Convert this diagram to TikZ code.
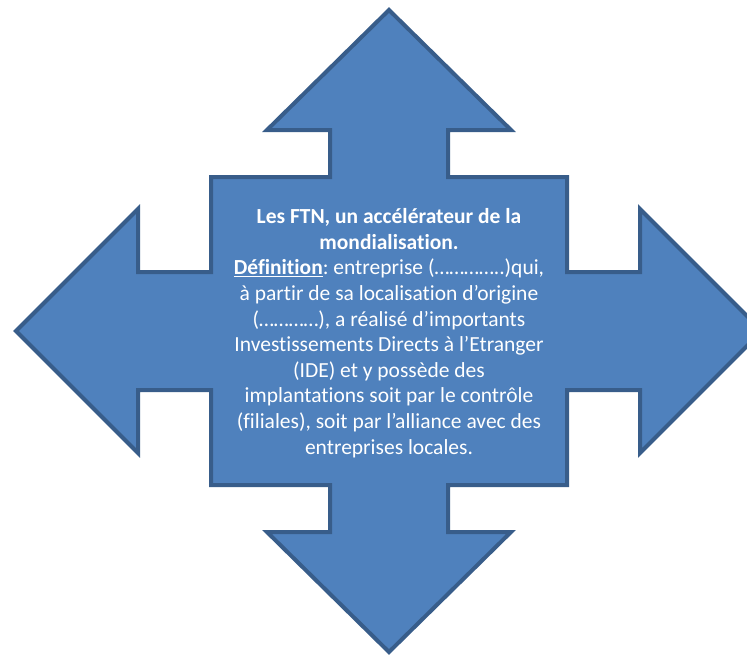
\documentclass[tikz,border=0pt]{standalone}
\usepackage{fontspec}
\setmainfont{Carlito}[Ligatures=NoCommon]
\frenchspacing
\definecolor{arrowfill}{HTML}{4F81BD}
\definecolor{arrowline}{HTML}{385D8A}
\tikzset{
  quadarrow/.style={fill=arrowfill, draw=arrowline, line width=4pt, line join=miter},
  maintext/.style={text=white, align=center, font=\fontsize{21.5}{25.6}\selectfont, inner sep=0pt}
}
\begin{document}
\begin{tikzpicture}[x=1pt,y=-1pt]
\useasboundingbox (0,0) rectangle (747,654);
\clip (0,0) rectangle (747,654);
\draw[quadarrow] (389,10) -- (511,130) -- (448,130) -- (448,177) -- (567,177) -- (567,272) -- (640,272) -- (640,209) -- (762,331) -- (640,453) -- (640,390) -- (567,390) -- (567,485) -- (448,485) -- (448,532) -- (511,532) -- (389,652) -- (267,532) -- (330,532) -- (330,485) -- (211,485) -- (211,390) -- (138,390) -- (138,453) -- (16,331) -- (138,209) -- (138,272) -- (211,272) -- (211,177) -- (330,177) -- (330,130) -- (267,130) -- cycle;
\node[maintext] (txt) at (389,333) {\textbf{Les FTN, un accélérateur de la}\\
\textbf{mondialisation.}\\
\underline{\textbf{Définition}}: entreprise (…………..)qui,\\
à partir de sa localisation d’origine\\
(…………), a réalisé d’importants\\
Investissements Directs à l’Etranger\\
(IDE) et y possède des\\
implantations soit par le contrôle\\
(filiales), soit par l’alliance avec des\\
entreprises locales.};
\end{tikzpicture}
\end{document}
